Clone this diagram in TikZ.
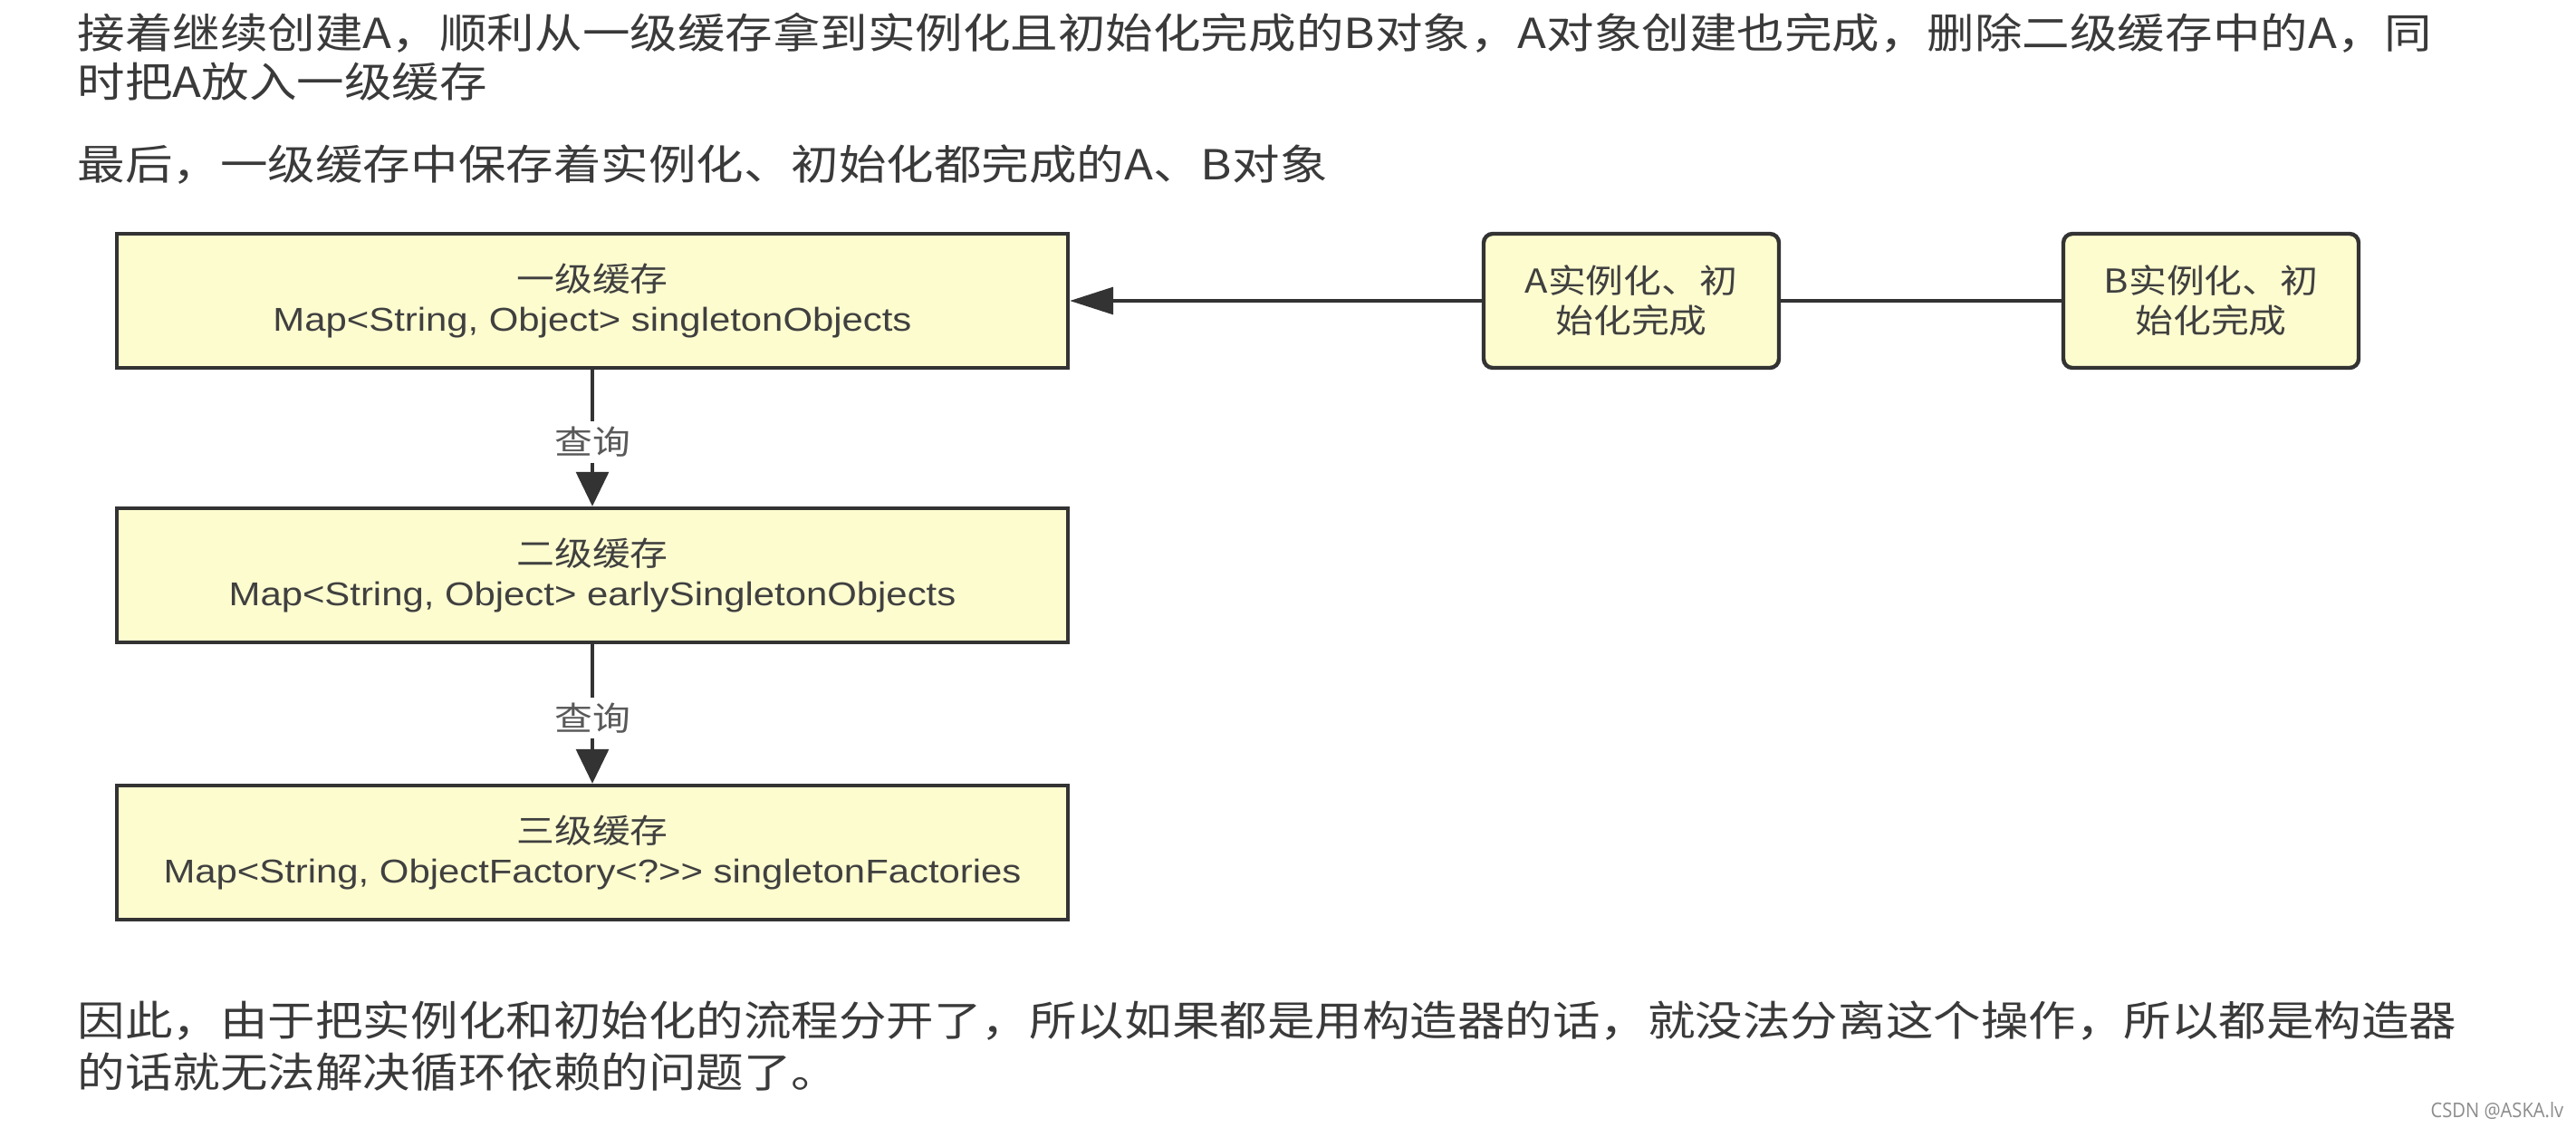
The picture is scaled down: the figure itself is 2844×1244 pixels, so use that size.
\documentclass[tikz,border=0pt]{standalone}
\usepackage{fontspec}
\usetikzlibrary{arrows.meta}
\setmainfont{Noto Sans CJK SC}[FakeStretch=1.15]
\newfontfamily\mapfont{Liberation Sans}[FakeStretch=1.15]
\newfontfamily\markfont{Open Sans}[FakeStretch=0.9]
\definecolor{boxfill}{HTML}{FDFCCF}
\definecolor{boxline}{HTML}{333333}
\definecolor{bodytext}{HTML}{3A3A3A}
\begin{document}
\begin{tikzpicture}[x=0.25pt, y=-0.25pt,
  cache/.style={draw=boxline, line width=1.1pt, fill=boxfill, minimum width=262.5pt,
    minimum height=37pt, align=center, text=black!75, font=\fontsize{9.1}{11}\selectfont},
  state/.style={cache, rounded corners=2.5pt, minimum width=81.5pt},
  para/.style={anchor=base west, inner sep=0pt, text=bodytext, font=\fontsize{11.42}{13.5}\selectfont},
  query/.style={fill=white, inner sep=1.5pt, text=black!65, font=\fontsize{9.1}{10}\selectfont},
  link/.style={line width=0.8pt, draw=boxline}]
\fill[white] (0,0) rectangle (2844,1244);
\useasboundingbox (0,0) rectangle (2844,1244);
% text above the diagram
\node[para] (t1) at (85,53) {接着继续创建A，顺利从一级缓存拿到实例化且初始化完成的B对象，A对象创建也完成，删除二级缓存中的A，同};
\node[para] (t2) at (85,107) {时把A放入一级缓存};
\node[para] (t3) at (85,198) {最后，一级缓存中保存着实例化、初始化都完成的A、B对象};
% three caches
\node[cache] (c1) at (654,332) {一级缓存\\{\mapfont Map<String, Object> singletonObjects}};
\node[cache] (c2) at (654,635) {二级缓存\\{\mapfont Map<String, Object> earlySingletonObjects}};
\node[cache] (c3) at (654,941) {三级缓存\\{\mapfont Map<String, ObjectFactory<?>> singletonFactories}};
% finished beans
\node[state] (ia) at (1801,332) {A实例化、初\\始化完成};
\node[state] (ib) at (2441,332) {B实例化、初\\始化完成};
\draw[link, -{Triangle[length=9.5pt, width=9pt]}] (c1) -- node[query, pos=0.53] {查询} (c2);
\draw[link, -{Triangle[length=9.5pt, width=9pt]}] (c2) -- node[query, pos=0.53] {查询} (c3);
\draw[link, -{Triangle[length=12pt, width=7.5pt]}] (ia) -- (c1);
\draw[link] (ib) -- (ia);
% text below the diagram
\node[para] (t4) at (85,1143) {因此，由于把实例化和初始化的流程分开了，所以如果都是用构造器的话，就没法分离这个操作，所以都是构造器};
\node[para] (t5) at (85,1200) {的话就无法解决循环依赖的问题了。};
\node[anchor=base east, inner sep=0pt, text=black!45, font=\markfont\fontsize{5.6}{6}\selectfont] (wm) at (2831,1233) {CSDN @ASKA.lv};
\end{tikzpicture}
\end{document}
